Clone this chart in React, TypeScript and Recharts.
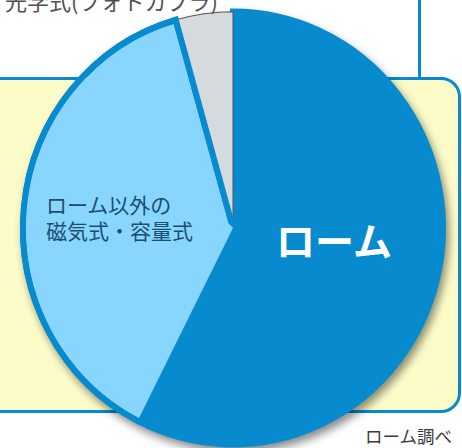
import React from 'react';
import { PieChart, Pie, Cell } from 'recharts';

// ---- data ----
const categories = ['ローム', 'ローム以外の磁気式・容量式', '光学式(フォトカプラ)'];
const shares = [57.5, 38.1, 4.4];
const sliceLabels = ['ローム', 'ローム以外の\n磁気式・容量式', '光学式(フォトカプラ)'];
const sourceNote = 'ローム調べ';

const pieData = categories.map((name, i) => ({ name, value: shares[i] }));
// split of the second slice used only for layering the border on its lower edge
const lowerPart = 30;
const coverData = [
  { name: categories[0], value: shares[0] },
  { name: 'cover', value: lowerPart },
  { name: 'rest', value: shares[1] - lowerPart + shares[2] },
];

const BLUE = '#078BCE';
const LIGHT = '#88D6FD';
const GRAY = '#D5DADF';
const YELLOW = '#FDFCC9';

const CX = 233;
const CY = 228;
const R = 210;

const common = {
  cx: CX,
  cy: CY,
  startAngle: 90,
  endAngle: -270,
  dataKey: 'value',
  isAnimationActive: false,
  label: false,
  labelLine: false,
} as const;

export default function App() {
  return (
    <div
      style={{
        position: 'fixed',
        left: 0,
        top: 0,
        width: 462,
        height: 448,
        overflow: 'hidden',
        background: '#fff',
      }}
    >
      {/* background panels */}
      <div
        style={{
          position: 'absolute',
          left: -10,
          top: 77,
          width: 471,
          height: 336,
          boxSizing: 'border-box',
          border: `3px solid ${BLUE}`,
          borderRadius: '0 20px 20px 0',
          background: YELLOW,
        }}
      />
      <div
        style={{
          position: 'absolute',
          left: 418,
          top: 0,
          width: 3,
          height: 79,
          background: BLUE,
        }}
      />
      <div
        style={{
          position: 'absolute',
          left: 0,
          top: 0,
          width: 462,
          height: 448,
          transform: 'scaleY(1.03)',
          transformOrigin: `${CX}px ${CY}px`,
          filter: 'drop-shadow(3px 5px 4px rgba(0,0,0,0.45))',
        }}
      >
        <PieChart width={462} height={448} margin={{ top: 0, right: 0, bottom: 0, left: 0 }}>
          <Pie {...common} data={pieData} outerRadius={R}>
            <Cell fill={BLUE} stroke={BLUE} strokeWidth={6} />
            <Cell fill={LIGHT} stroke={BLUE} strokeWidth={6} />
            <Cell fill={GRAY} stroke="#555" strokeWidth={1} />
          </Pie>
          <Pie {...common} data={pieData} outerRadius={R}>
            <Cell fill="none" stroke="none" />
            <Cell fill="none" stroke={BLUE} strokeWidth={6} />
            <Cell fill="none" stroke="none" />
          </Pie>
          <Pie {...common} data={coverData} outerRadius={R - 3}>
            <Cell fill="none" stroke="none" />
            <Cell fill={LIGHT} stroke="none" />
            <Cell fill="none" stroke="none" />
          </Pie>
        </PieChart>
      </div>
      <svg
        width={462}
        height={448}
        style={{ position: 'absolute', left: 0, top: 0 }}
        fontFamily='"Noto Sans CJK JP", "Noto Sans", sans-serif'
      >
        <text x={5} y={10} fontSize={22} fill="#505050">
          {sliceLabels[2]}
        </text>
        <text x={334} y={256} fontSize={39} fontWeight="bold" fill="#fff" textAnchor="middle">
          {sliceLabels[0]}
        </text>
        {sliceLabels[1].split('\n').map((line, i) => (
          <text key={i} x={46} y={213 + i * 26} fontSize={21} fill="#1B4F6F">
            {line}
          </text>
        ))}
        <text x={452} y={443} fontSize={17.5} fill="#3A3A3A" textAnchor="end">
          {sourceNote}
        </text>
      </svg>
    </div>
  );
}
